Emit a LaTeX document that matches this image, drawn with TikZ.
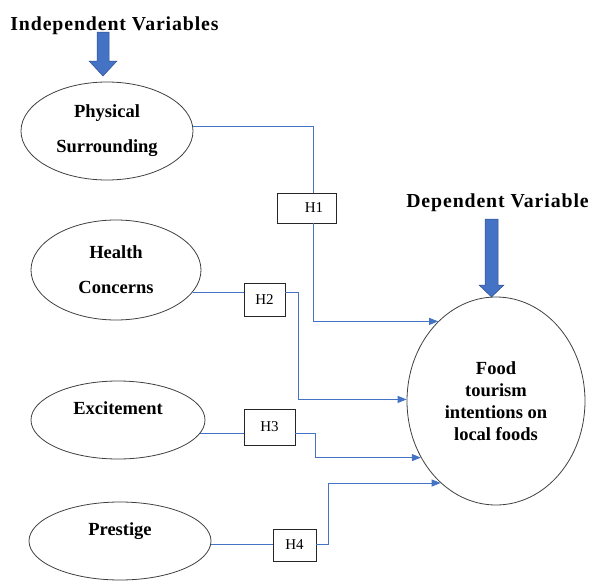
\documentclass[tikz,border=0pt]{standalone}
\usepackage{fontspec}
\setmainfont{Liberation Serif}
\newfontfamily\headfont{Liberation Serif}[LetterSpace=4.5]
\usetikzlibrary{shapes.geometric,arrows.meta}
\definecolor{lnblue}{HTML}{4472C4}
\definecolor{arblue}{HTML}{4472C4}
\definecolor{aredge}{HTML}{2F528F}
\begin{document}
\begin{tikzpicture}[x=1pt,y=-1pt,
  oval/.style={ellipse,draw=black!75,line width=0.8pt,fill=white,inner sep=0pt,align=center,font=\bfseries\fontsize{18.5}{35}\selectfont},
  hyp/.style={draw=black!85,line width=0.8pt,fill=white,inner sep=0pt,font=\fontsize{15}{18}\selectfont},
  link/.style={draw=lnblue,line width=0.9pt},
  tip/.style={-{Triangle[length=9pt,width=7pt]}},
  heading/.style={font=\headfont\bfseries\fontsize{19.8}{23}\selectfont,anchor=base,inner sep=0pt},
  bigarrow/.style={fill=arblue,draw=aredge,line width=0.5pt}]
\useasboundingbox (0,0) rectangle (590,581);

\node[heading] (IV) at (114.5,30) {Independent Variables};
\node[heading] (DV) at (497.5,207) {Dependent Variable};

\node[oval,minimum width=172pt,minimum height=98pt] (PS) at (107,131) {Physical\\Surrounding};
\node[oval,minimum width=170pt,minimum height=100pt] (HC) at (116,270) {Health\\Concerns};
\node[oval,minimum width=174pt,minimum height=78pt] (EX) at (118,420) {\raisebox{6pt}[0pt][0pt]{Excitement}};
\node[oval,minimum width=182pt,minimum height=78pt] (PR) at (120,541) {\raisebox{6pt}[0pt][0pt]{Prestige}};
\node[oval,minimum width=178pt,minimum height=208pt,font=\bfseries\fontsize{18.5}{22}\selectfont] (FT) at (496,401) {Food\\tourism\\intentions on\\local foods};

\node[hyp,minimum width=59pt,minimum height=30pt] (H1) at (306.5,208) {\hspace*{15pt}H1};
\node[hyp,minimum width=41pt,minimum height=33pt] (H2) at (264.5,299.5) {H2};
\node[hyp,minimum width=51pt,minimum height=36pt] (H3) at (269.5,427) {H3};
\node[hyp,minimum width=43pt,minimum height=32pt] (H4) at (294.5,545) {H4};

\draw[link] (PS.3) -| ([xshift=6.5pt]H1.north);
\draw[link,tip] ([xshift=6.5pt]H1.south) |- (FT.126);
\draw[link] (HC.-16) -- (HC.-16 -| H2.west);
\draw[link,tip] (HC.-16 -| H2.east) -- ++(13,0) |- (FT.179);
\draw[link] (EX.-9) -- (EX.-9 -| H3.west);
\draw[link,tip] (EX.-9 -| H3.east) -- ++(20,0) |- (FT.217);
\draw[link] (PR.-2) -- (PR.-2 -| H4.west);
\draw[link,tip] (PR.-2 -| H4.east) -- ++(12,0) |- (FT.236);

\draw[bigarrow] (97,32) -- (109,32) -- (109,61) -- (117,61) -- (103,76) -- (89,61) -- (97,61) -- cycle;
\draw[bigarrow] (485,219) -- (498,219) -- (498,285) -- (504,285) -- (491.5,297) -- (479,285) -- (485,285) -- cycle;
\end{tikzpicture}
\end{document}
